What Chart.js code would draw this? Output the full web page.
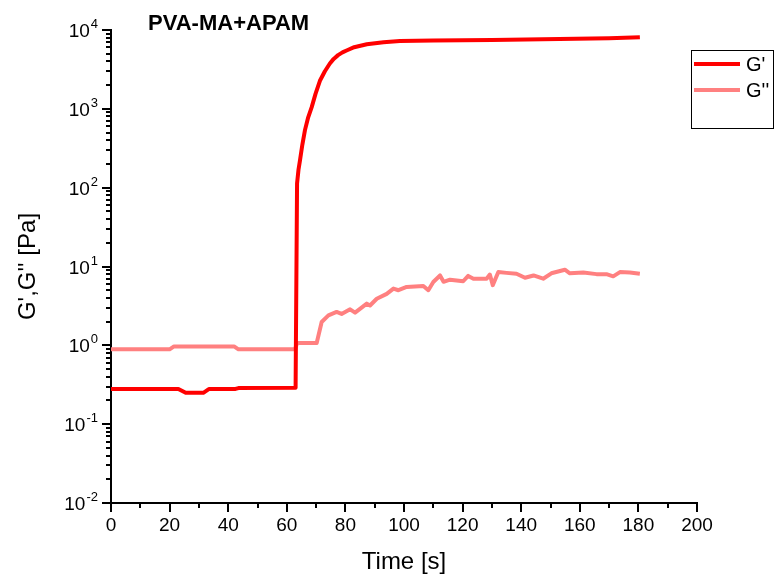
<!DOCTYPE html>
<html>
<head>
<meta charset="utf-8">
<script src="https://cdn.jsdelivr.net/npm/chart.js@4"></script>
<style>
  html, body { margin: 0; padding: 0; background: #fff; }
  #wrap { width: 774px; height: 581px; }
</style>
</head>
<body>
<div id="wrap"><canvas id="chart"></canvas></div>
<script>
'use strict';

// G' (storage modulus)
var gpTime  = [0, 21, 23, 25.5, 31.5, 33.5, 42.5, 43.5, 63.0, 63.5, 64.0, 64.5, 65.3, 66.2, 67.3, 68.5, 69.8, 71.3, 73.0, 74.7, 76.0, 77.5, 79.0, 80.4, 83.0, 87.3, 93, 98.6, 110, 130, 153, 170, 180.5];
var gpValue = [0.28, 0.28, 0.28, 0.25, 0.25, 0.28, 0.28, 0.287, 0.29, 113, 170, 222, 350, 537, 780, 1050, 1550, 2270, 3000, 3760, 4300, 4800, 5200, 5500, 6050, 6600, 7000, 7230, 7350, 7450, 7670, 7850, 8100];

// G'' (loss modulus)
var gppTime  = [0, 20, 21.5, 42, 43.5, 62.8, 63.5, 70.2, 71.9, 74.2, 77, 78.7, 81.6, 83.3, 87.3, 88.4, 90.7, 94.1, 96.4, 98.1, 100.9, 106.6, 108.3, 110, 112.3, 113.5, 115.7, 120.2, 121.9, 123.7, 128.2, 129.3, 130.3, 132.2, 135, 138.4, 141.3, 144.2, 147.5, 150.3, 154.9, 156.6, 161.2, 165.7, 169.1, 171.4, 173.7, 177.1, 180.5];
var gppValue = [0.89, 0.89, 0.97, 0.97, 0.89, 0.89, 1.07, 1.07, 1.98, 2.4, 2.65, 2.5, 2.86, 2.6, 3.38, 3.2, 3.9, 4.5, 5.25, 5.0, 5.5, 5.65, 5.0, 6.35, 7.7, 6.4, 6.8, 6.5, 7.6, 7.0, 7.0, 7.9, 5.8, 8.5, 8.3, 8.1, 7.2, 7.7, 7.0, 8.2, 9.1, 8.2, 8.4, 8.0, 8.0, 7.5, 8.5, 8.4, 8.1];

var xMajor = [0, 20, 40, 60, 80, 100, 120, 140, 160, 180, 200];
var yExponents = [-2, -1, 0, 1, 2, 3, 4];

var seriesLabels = ["G'", "G''"];
var colorGp  = '#ff0000';
var colorGpp = '#ff8080';
var FONT = '"Liberation Sans", Arial, sans-serif';

function toPoints(xs, ys) {
    return xs.map(function (x, i) { return { x: x, y: ys[i] }; });
}

// ticks, y labels, title and legend in Origin style
var originDecor = {
    id: 'originDecor',
    afterDraw: function (chart) {
        var ctx = chart.ctx;
        var xs = chart.scales.x, ys = chart.scales.y;
        var axX = chart.chartArea.left, axY = chart.chartArea.bottom;
        ctx.save();
        ctx.strokeStyle = '#000';
        ctx.lineWidth = 2;
        ctx.beginPath();
        // x ticks (major every 20, minor every 10)
        for (var v = 0; v <= 200; v += 10) {
            var px = Math.round(xs.getPixelForValue(v));
            var len = (v % 20 === 0) ? 9 : 5;
            ctx.moveTo(px, axY);
            ctx.lineTo(px, axY + len);
        }
        // y ticks (major at decades, minor 2..9)
        yExponents.forEach(function (e, i) {
            var py = Math.round(ys.getPixelForValue(Math.pow(10, e)));
            ctx.moveTo(axX, py);
            ctx.lineTo(axX - 9, py);
            if (i < yExponents.length - 1) {
                for (var m = 2; m <= 9; m++) {
                    var pm = Math.round(ys.getPixelForValue(m * Math.pow(10, e)));
                    ctx.moveTo(axX, pm);
                    ctx.lineTo(axX - 5, pm);
                }
            }
        });
        ctx.stroke();

        // y labels 10^n
        ctx.fillStyle = '#000';
        ctx.textBaseline = 'alphabetic';
        yExponents.forEach(function (e) {
            var py = ys.getPixelForValue(Math.pow(10, e));
            var sup = String(e);
            ctx.font = '13px ' + FONT;
            var wSup = ctx.measureText(sup).width;
            ctx.font = '19px ' + FONT;
            var wBase = ctx.measureText('10').width;
            var right = 98;
            ctx.textAlign = 'left';
            ctx.fillText('10', right - wSup - wBase - 1, py + 7);
            ctx.font = '13px ' + FONT;
            ctx.fillText(sup, right - wSup, py - 2);
        });

        // plot title
        ctx.font = 'bold 22px ' + FONT;
        ctx.textAlign = 'left';
        ctx.fillText('PVA-MA+APAM', 148, 30);

        // legend box
        ctx.lineWidth = 1;
        ctx.strokeRect(691.5, 50.5, 82, 78);
        var rows = [64, 90];
        chart.data.datasets.forEach(function (ds, i) {
            ctx.strokeStyle = ds.borderColor;
            ctx.lineWidth = 4;
            ctx.beginPath();
            ctx.moveTo(694, rows[i]);
            ctx.lineTo(740, rows[i]);
            ctx.stroke();
            ctx.fillStyle = '#000';
            ctx.font = '20px ' + FONT;
            ctx.fillText(ds.label, 746, rows[i] + 7);
        });
        ctx.restore();
    }
};

new Chart(document.getElementById('chart'), {
    type: 'line',
    data: {
        datasets: [
            {
                label: seriesLabels[0],
                data: toPoints(gpTime, gpValue),
                borderColor: colorGp,
                borderWidth: 4,
                borderJoinStyle: 'round',
                pointRadius: 0,
                tension: 0,
                fill: false
            },
            {
                label: seriesLabels[1],
                data: toPoints(gppTime, gppValue),
                borderColor: colorGpp,
                borderWidth: 4,
                borderJoinStyle: 'round',
                pointRadius: 0,
                tension: 0,
                fill: false
            }
        ]
    },
    options: {
        responsive: true,
        maintainAspectRatio: false,
        animation: false,
        events: [],
        layout: { padding: { top: 30, right: 77, left: 0, bottom: 0 } },
        plugins: {
            legend: { display: false },
            tooltip: { enabled: false }
        },
        scales: {
            x: {
                type: 'linear',
                min: 0,
                max: 200,
                grid: { display: false, drawTicks: false },
                border: { display: true, color: '#000', width: 2 },
                afterBuildTicks: function (s) {
                    s.ticks = xMajor.map(function (v) { return { value: v }; });
                },
                afterFit: function (s) { s.height = 78; },
                ticks: {
                    color: '#000',
                    padding: 11,
                    maxRotation: 0,
                    font: { family: FONT, size: 19 }
                },
                title: {
                    display: true,
                    text: 'Time [s]',
                    color: '#000',
                    font: { family: FONT, size: 24 },
                    padding: { top: 0, bottom: 4 }
                }
            },
            y: {
                type: 'logarithmic',
                min: 0.01,
                max: 10000,
                grid: { display: false, drawTicks: false },
                border: { display: true, color: '#000', width: 2 },
                afterBuildTicks: function (s) {
                    s.ticks = yExponents.map(function (e) { return { value: Math.pow(10, e) }; });
                },
                afterFit: function (s) { s.width = 111; },
                ticks: { display: false },
                title: {
                    display: true,
                    text: "G',G'' [Pa]",
                    color: '#000',
                    font: { family: FONT, size: 24 },
                    padding: { top: 14, bottom: 0 }
                }
            }
        }
    },
    plugins: [originDecor]
});
</script>
</body>
</html>
